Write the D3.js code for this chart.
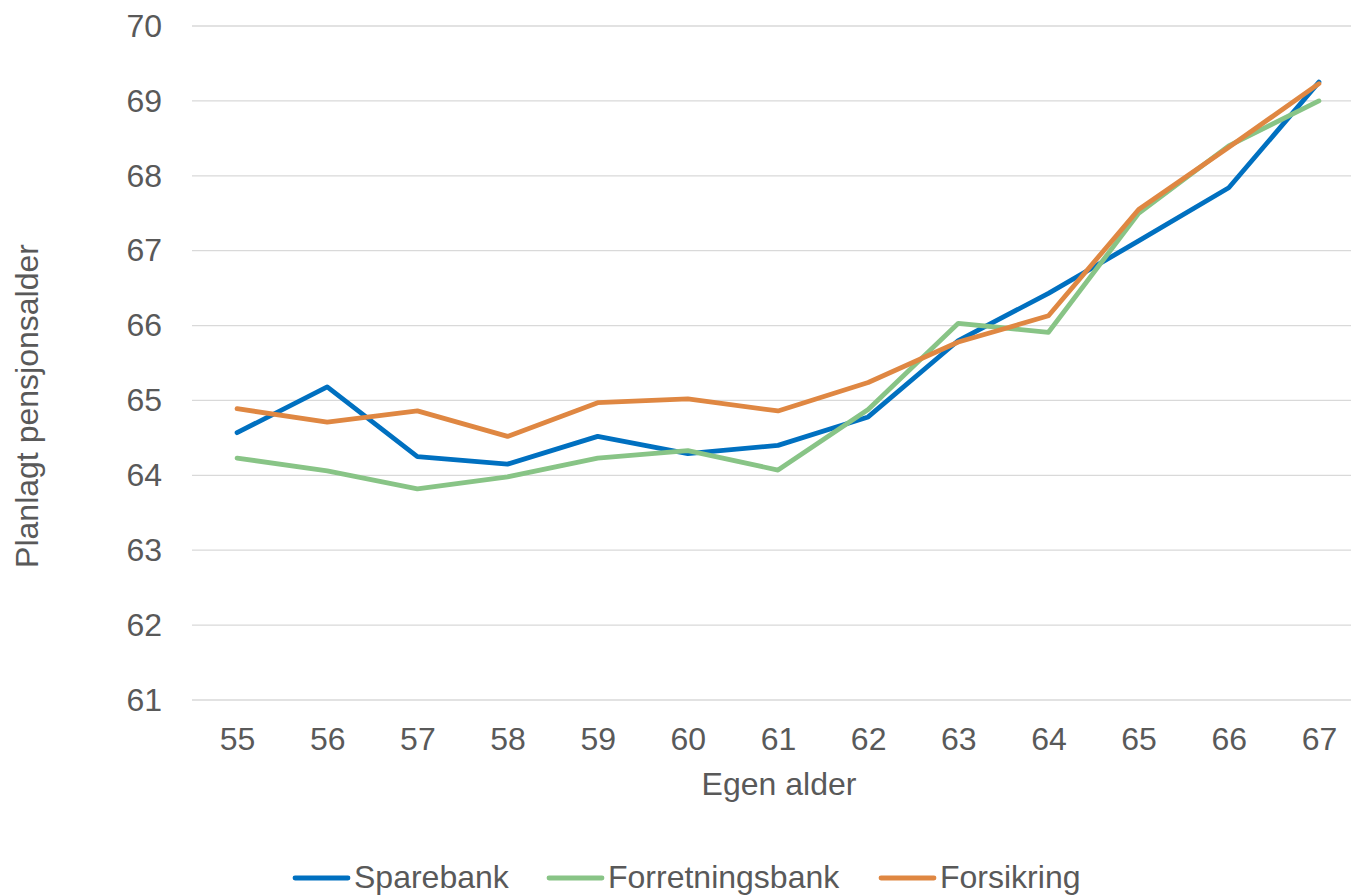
<!DOCTYPE html>
<html><head><meta charset="utf-8">
<script src="https://cdn.jsdelivr.net/npm/d3@7"></script>
<style>
html,body{margin:0;padding:0;background:#fff;}
svg{display:block;font-family:"Liberation Sans",Arial,sans-serif;}
</style></head>
<body>
<svg id="chart" width="1351" height="896"></svg>
<script>
const categories = [55,56,57,58,59,60,61,62,63,64,65,66,67];
const sparebank = [64.57,65.18,64.25,64.15,64.52,64.29,64.40,64.78,65.80,66.43,67.13,67.84,69.25];
const forretningsbank = [64.23,64.06,63.82,63.98,64.23,64.33,64.07,64.88,66.03,65.91,67.50,68.40,69.00];
const forsikring = [64.89,64.71,64.86,64.52,64.97,65.02,64.86,65.24,65.78,66.13,67.55,68.38,69.23];
const yTicks = [61,62,63,64,65,66,67,68,69,70];
const seriesNames = ["Sparebank","Forretningsbank","Forsikring"];
const seriesColors = ["#0070C0","#88C486","#DF8742"];

(function(){
const FS = 32;
const series = [sparebank, forretningsbank, forsikring].map((v,i)=>({name:seriesNames[i],color:seriesColors[i],values:v}));

const svg = d3.select("#chart");
const mLeft = 192, mRight = 1364, mTop = 26, mBottom = 700;

const x = d3.scalePoint().domain(categories).range([mLeft, mRight]).padding(0.5);
const y = d3.scaleLinear().domain([61,70]).range([mBottom, mTop]);

// gridlines
svg.append("g").selectAll("line").data(yTicks).join("line")
  .attr("x1", mLeft).attr("x2", mRight)
  .attr("y1", d=>y(d)).attr("y2", d=>y(d))
  .attr("stroke","#d9d9d9").attr("stroke-width",1.3);

// y axis labels
const yAxis = d3.axisLeft(y).tickValues(yTicks).tickSize(0).tickPadding(0);
const gy = svg.append("g").attr("transform",`translate(${162},0)`).call(yAxis);
gy.select(".domain").remove();
gy.selectAll("text").attr("font-size",FS).attr("fill","#595959").attr("font-family","Liberation Sans, Arial, sans-serif");

// x axis labels
const xAxis = d3.axisBottom(x).tickSize(0).tickPadding(0);
const gx = svg.append("g").attr("transform",`translate(0,${727})`).call(xAxis);
gx.select(".domain").remove();
gx.selectAll("text").attr("font-size",FS).attr("fill","#595959").attr("font-family","Liberation Sans, Arial, sans-serif");

// axis titles
svg.append("text").attr("x",779).attr("y",795).attr("text-anchor","middle")
  .attr("font-size",FS).attr("fill","#595959").text("Egen alder");
svg.append("text").attr("transform","translate(38,406) rotate(-90)").attr("text-anchor","middle")
  .attr("font-size",FS).attr("fill","#595959").text("Planlagt pensjonsalder");

// lines
const line = d3.line().x((d,i)=>x(categories[i])).y(d=>y(d));
svg.append("g").selectAll("path").data(series).join("path")
  .attr("d", d=>line(d.values))
  .attr("fill","none").attr("stroke",d=>d.color).attr("stroke-width",4.8)
  .attr("stroke-linejoin","round").attr("stroke-linecap","round");

// legend
const legendItems = [{x:295, tx:354},{x:549, tx:608},{x:881, tx:940}];
const lg = svg.append("g");
series.forEach((s,i)=>{
  const it = legendItems[i];
  lg.append("line").attr("x1",it.x).attr("x2",it.x+53).attr("y1",878).attr("y2",878)
    .attr("stroke",s.color).attr("stroke-width",4.8).attr("stroke-linecap","round");
  lg.append("text").attr("x",it.tx).attr("y",888).attr("font-size",FS).attr("fill","#595959").text(s.name);
});
})();
</script>
</body></html>
